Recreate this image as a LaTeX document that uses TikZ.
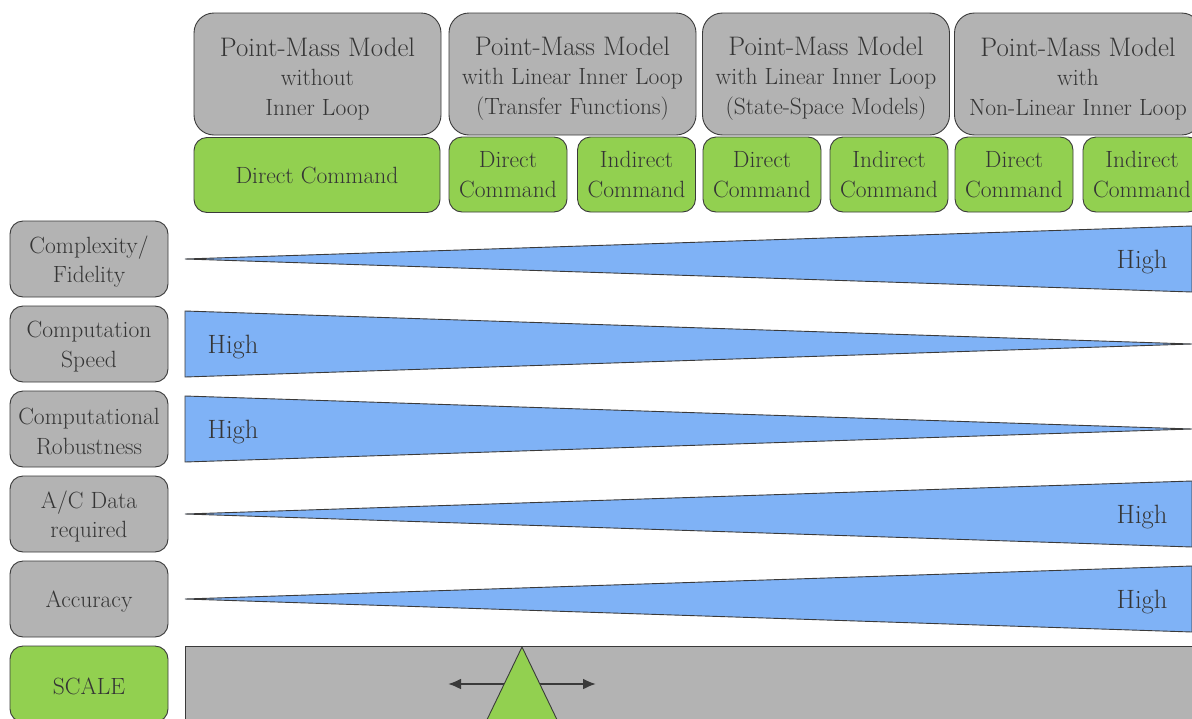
\documentclass[tikz,border=0pt]{standalone}
\usetikzlibrary{arrows.meta}
\definecolor{boxgray}{HTML}{B3B3B3}
\definecolor{cmdgreen}{HTML}{92D050}
\definecolor{wedgeblue}{HTML}{7FB2F6}
\definecolor{ink}{HTML}{353535}
\definecolor{edgeline}{HTML}{3A3A3A}

\tikzset{
  txt/.style={text=ink, align=center, inner sep=0pt, font=\fontsize{23.5}{29.5}\selectfont},
  base/.style={txt, draw=edgeline, line width=0.9pt},
  modelbox/.style={base, fill=boxgray, rounded corners=20pt, minimum width=247pt, minimum height=122pt},
  cmdwide/.style={base, fill=cmdgreen, rounded corners=13pt, minimum width=246pt, minimum height=75pt},
  cmdbox/.style={base, fill=cmdgreen, rounded corners=13pt, minimum width=118pt, minimum height=75pt},
  critbox/.style={base, fill=boxgray, rounded corners=13pt, minimum width=158pt, minimum height=76pt},
  scalebox/.style={base, fill=cmdgreen, rounded corners=13pt, minimum width=158pt, minimum height=76pt},
  headtext/.style={txt, yshift=-4.5pt},
  crittext/.style={txt, yshift=-2.5pt},
  wedge/.style={draw=edgeline, line width=0.9pt, fill=wedgeblue, line join=miter},
  highlabel/.style={text=ink, inner sep=0pt, font=\fontsize{26.5}{30}\selectfont},
}
\newcommand{\headline}[1]{{\fontsize{26.8}{29.5}\selectfont #1}}

\begin{document}
\begin{tikzpicture}[x=1pt, y=-1pt]
  \clip (0,0) rectangle (1192,718);

  % model headers
  \node[modelbox] (m1) at (317.5,74) {};
  \node[modelbox] (m2) at (572.5,74) {};
  \node[modelbox] (m3) at (826,74) {};
  \node[modelbox] (m4) at (1078,74) {};
  \node[headtext] (m1t) at (m1) {\headline{Point-Mass Model}\\without\\Inner Loop};
  \node[headtext] (m2t) at (m2) {\headline{Point-Mass Model}\\with Linear Inner Loop\\(Transfer Functions)};
  \node[headtext] (m3t) at (m3) {\headline{Point-Mass Model}\\with Linear Inner Loop\\(State-Space Models)};
  \node[headtext] (m4t) at (m4) {\headline{Point-Mass Model}\\with\\Non-Linear Inner Loop};

  % command variants
  \node[cmdwide] (c1) at (317,175) {Direct Command};
  \node[cmdbox] (c2a) at (508,174.5) {Direct\\Command};
  \node[cmdbox] (c2b) at (636.5,174.5) {Indirect\\Command};
  \node[cmdbox] (c3a) at (762,174.5) {Direct\\Command};
  \node[cmdbox] (c3b) at (889,174.5) {Indirect\\Command};
  \node[cmdbox] (c4a) at (1014,174.5) {Direct\\Command};
  \node[cmdbox] (c4b) at (1142,174.5) {Indirect\\Command};

  % criteria
  \node[critbox] (k1) at (89,259) {};
  \node[critbox] (k2) at (89,344) {};
  \node[critbox] (k3) at (89,429) {};
  \node[critbox] (k4) at (89,514) {};
  \node[critbox] (k5) at (89,599) {};
  \node[scalebox] (ks) at (89,684) {};
  \node[crittext] (k1t) at (k1) {Complexity/\\Fidelity};
  \node[crittext] (k2t) at (k2) {Computation\\Speed};
  \node[crittext] (k3t) at (k3) {Computational\\Robustness};
  \node[crittext] (k4t) at (k4) {A/C Data\\required};
  \node[crittext] (k5t) at (k5) {Accuracy};
  \node[crittext] (kst) at (ks) {SCALE};

  % trend wedges
  \draw[wedge] (185,259) -- (1192,226) -- (1192,292) -- cycle;
  \draw[wedge] (185,311) -- (1192,344) -- (185,377) -- cycle;
  \draw[wedge] (185,396) -- (1192,429) -- (185,462) -- cycle;
  \draw[wedge] (185,514) -- (1192,481) -- (1192,547) -- cycle;
  \draw[wedge] (185,599) -- (1192,566) -- (1192,632) -- cycle;

  \node[highlabel] (h1) at (1142,262) {High};
  \node[highlabel] (h2) at (233,347) {High};
  \node[highlabel] (h3) at (233,432) {High};
  \node[highlabel] (h4) at (1142,517) {High};
  \node[highlabel] (h5) at (1142,602) {High};

  % scale bar with slider
  \draw[draw=edgeline, line width=0.9pt, fill=boxgray] (185,646) rectangle (1200,740);
  \coordinate (sl) at (448,684);
  \coordinate (sr) at (596,684);
  \draw[draw=edgeline, line width=2.2pt, {Latex[length=13pt,width=11pt]}-{Latex[length=13pt,width=11pt]}] (sl) -- (sr);
  \draw[draw=edgeline, line width=0.9pt, fill=cmdgreen, line join=miter] (522,647) -- (470,755) -- (574,755) -- cycle;
\end{tikzpicture}
\end{document}
